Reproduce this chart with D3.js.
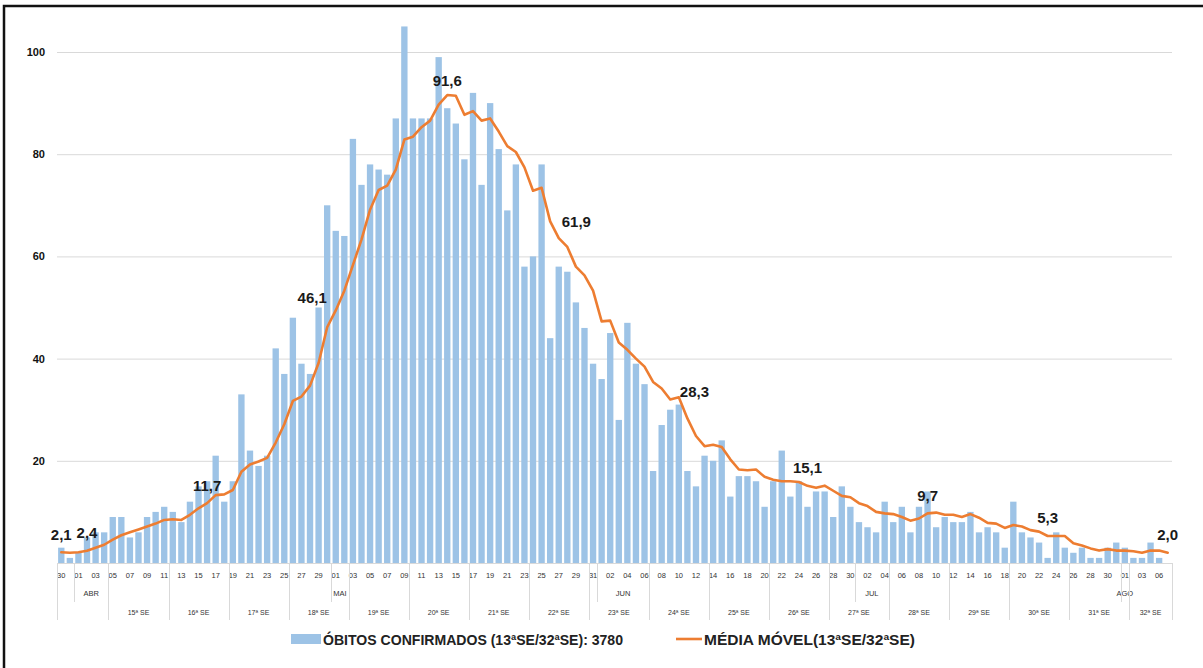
<!DOCTYPE html>
<html lang="pt-BR">
<head>
<meta charset="utf-8">
<title>Óbitos confirmados e média móvel</title>
<script src="https://cdn.jsdelivr.net/npm/d3@7"></script>
<style>
  html, body { margin: 0; padding: 0; background: #fff; }
  svg { display: block; font-family: "Liberation Sans", Arial, sans-serif; }
</style>
</head>
<body>
<svg id="obitos-chart" width="1203" height="668"></svg>
<script>
// dias (rótulo do eixo), de 30/03 a 07/08 (05/08 ausente na planilha)
const dias = [
  "30", "31",
  "01", "02", "03", "04", "05", "06", "07", "08", "09", "10", "11", "12", "13", "14", "15",
  "16", "17", "18", "19", "20", "21", "22", "23", "24", "25", "26", "27", "28", "29", "30",
  "01", "02", "03", "04", "05", "06", "07", "08", "09", "10", "11", "12", "13", "14", "15", "16",
  "17", "18", "19", "20", "21", "22", "23", "24", "25", "26", "27", "28", "29", "30", "31",
  "01", "02", "03", "04", "05", "06", "07", "08", "09", "10", "11", "12", "13", "14", "15",
  "16", "17", "18", "19", "20", "21", "22", "23", "24", "25", "26", "27", "28", "29", "30",
  "01", "02", "03", "04", "05", "06", "07", "08", "09", "10", "11", "12", "13", "14", "15", "16",
  "17", "18", "19", "20", "21", "22", "23", "24", "25", "26", "27", "28", "29", "30", "31",
  "01", "02", "03", "04", "06", "07",
];

const obitos = [
  3, 1, 2, 5, 6, 6, 9, 9, 5, 6,
  9, 10, 11, 10, 8, 12, 15, 16, 21, 12,
  16, 33, 22, 19, 21, 42, 37, 48, 39, 37,
  50, 70, 65, 64, 83, 74, 78, 77, 76, 87,
  105, 87, 87, 87, 99, 89, 86, 79, 92, 74,
  90, 81, 69, 78, 58, 60, 78, 44, 58, 57,
  51, 46, 39, 36, 45, 28, 47, 39, 35, 18,
  27, 30, 31, 18, 15, 21, 20, 24, 13, 17,
  17, 16, 11, 16, 22, 13, 16, 11, 14, 14,
  9, 15, 11, 8, 7, 6, 12, 8, 11, 6,
  11, 14, 7, 9, 8, 8, 10, 6, 7, 6,
  3, 12, 6, 5, 4, 1, 6, 3, 2, 3,
  1, 1, 3, 4, 3, 1, 1, 4, 1, 0,
];

const mediaMovel = [
  2.1, 2.0, 2.1, 2.4, 3.0, 3.57, 4.57, 5.43, 6.0, 6.57,
  7.14, 7.71, 8.43, 8.57, 8.43, 9.43, 10.71, 11.71, 13.29, 13.43,
  14.29, 17.86, 19.29, 19.86, 20.57, 23.57, 27.14, 31.71, 32.57, 34.71,
  39.14, 46.14, 49.43, 53.29, 58.29, 63.29, 69.14, 73.0, 73.86, 77.0,
  82.86, 83.43, 85.29, 86.57, 89.71, 91.57, 91.43, 87.71, 88.43, 86.57,
  87.0, 84.43, 81.57, 80.43, 77.43, 72.86, 73.43, 66.86, 63.57, 61.86,
  58.0, 56.29, 53.29, 47.29, 47.43, 43.14, 41.71, 40.0, 38.43, 35.43,
  34.14, 32.0, 32.43, 28.29, 24.86, 22.86, 23.14, 22.71, 20.29, 18.29,
  18.14, 18.29, 16.86, 16.29, 16.0, 16.0, 15.86, 15.1, 14.71, 15.14,
  14.14, 13.14, 12.86, 11.71, 11.14, 10.0, 9.71, 9.57, 9.0, 8.29,
  8.71, 9.71, 9.86, 9.43, 9.43, 9.0, 9.57, 8.86, 7.86, 7.71,
  6.86, 7.43, 7.14, 6.43, 6.14, 5.29, 5.29, 5.29, 3.86, 3.43,
  2.86, 2.43, 2.71, 2.43, 2.43, 2.29, 2.0, 2.43, 2.43, 2.0,
];

// pontos da média móvel com rótulo
const pontosRotulados = [0, 3, 17, 31, 45, 59, 73, 87, 101, 115, 129];

// meses: rótulo e índice do dia 01
const meses = ["ABR", "MAI", "JUN", "JUL", "AGO"];
const mesesInicio = [2, 32, 63, 93, 124];

// semanas epidemiológicas: rótulo e índice do primeiro dia
const semanas = [
  "", "15ª SE", "16ª SE", "17ª SE", "18ª SE", "19ª SE", "20ª SE", "21ª SE", "22ª SE", "23ª SE",
  "24ª SE", "25ª SE", "26ª SE", "27ª SE", "28ª SE", "29ª SE", "30ª SE", "31ª SE", "32ª SE",
];
const semanasInicio = [0, 6, 13, 20, 27, 34, 41, 48, 55, 62, 69, 76, 83, 90, 97, 104, 111, 118, 125];

const yTicks = [20, 40, 60, 80, 100];

const legendaBarras = "ÓBITOS CONFIRMADOS (13ªSE/32ªSE): 3780";
const legendaLinha = "MÉDIA MÓVEL(13ªSE/32ªSE)";

(function graficoObitos() {
  const svg = d3.select("#obitos-chart");
  const width = 1203;
  const height = 668;
  const left = 57;
  const right = 1172;
  const base = 563;
  const topo100 = 52;

  const corBarra = "#9dc3e6";
  const corLinha = "#ed7d31";
  const corGrade = "#d9d9d9";

  svg.append("rect").attr("width", width).attr("height", height).attr("fill", "#fff");

  // moldura (só topo e esquerda aparecem no recorte)
  svg
    .append("path")
    .attr("d", `M4,${height} V6 H${width}`)
    .attr("fill", "none")
    .attr("stroke", "#111")
    .attr("stroke-width", 2.5);

  const n = obitos.length;
  const idx = d3.range(n);

  const x = d3.scaleBand().domain(idx).range([left, right]).paddingInner(0.26).paddingOuter(0.13);
  const slot = d3.scaleLinear().domain([0, n]).range([left, right]);
  const y = d3.scaleLinear().domain([0, 100]).range([base, topo100]);
  const cx = (i) => x(i) + x.bandwidth() / 2;

  // grade horizontal
  const gridG = svg.append("g").attr("transform", `translate(${left},0)`);
  gridG.call(d3.axisLeft(y).tickValues(yTicks).tickSize(-(right - left)).tickFormat(""));
  gridG.selectAll("line").attr("stroke", corGrade).attr("stroke-width", 1);
  gridG.select(".domain").remove();

  // rótulos do eixo y
  const yAxisG = svg.append("g").attr("transform", `translate(${left},0)`);
  yAxisG.call(d3.axisLeft(y).tickValues(yTicks).tickSize(0).tickPadding(12));
  yAxisG.select(".domain").remove();
  yAxisG
    .selectAll("text")
    .attr("font-family", "Liberation Sans, Arial, sans-serif")
    .attr("font-size", 11)
    .attr("font-weight", "bold")
    .attr("fill", "#111");

  // barras
  svg
    .append("g")
    .selectAll("rect")
    .data(obitos)
    .join("rect")
    .attr("x", (d, i) => x(i))
    .attr("width", x.bandwidth())
    .attr("y", (d) => y(d))
    .attr("height", (d) => y(0) - y(d))
    .attr("fill", corBarra);

  // linha base
  svg
    .append("line")
    .attr("x1", left)
    .attr("x2", right)
    .attr("y1", base + 0.5)
    .attr("y2", base + 0.5)
    .attr("stroke", corGrade);

  // média móvel
  const line = d3
    .line()
    .x((d, i) => cx(i))
    .y((d) => y(d));

  svg
    .append("path")
    .datum(mediaMovel)
    .attr("d", line)
    .attr("fill", "none")
    .attr("stroke", corLinha)
    .attr("stroke-width", 2.6)
    .attr("stroke-linejoin", "round")
    .attr("stroke-linecap", "round");

  // deslocamento de alguns rótulos (como no original)
  const ajusteRotulo = { 31: [-15, -30], 45: [0, -15], 59: [9, -25], 73: [7, -27] };

  svg
    .append("g")
    .selectAll("text")
    .data(pontosRotulados)
    .join("text")
    .attr("x", (i) => cx(i) + (ajusteRotulo[i] ? ajusteRotulo[i][0] : 0))
    .attr("y", (i) => y(mediaMovel[i]) + (ajusteRotulo[i] ? ajusteRotulo[i][1] : -18))
    .attr("text-anchor", "middle")
    .attr("dominant-baseline", "central")
    .attr("font-size", 15)
    .attr("font-weight", "bold")
    .attr("fill", "#1a1a1a")
    .text((i) => mediaMovel[i].toFixed(1).replace(".", ","));

  // eixo de categorias em três níveis
  const catG = svg.append("g").attr("fill", "#333");

  catG
    .selectAll("text.dia")
    .data(idx.filter((i) => i % 2 === 0))
    .join("text")
    .attr("class", "dia")
    .attr("x", (i) => cx(i))
    .attr("y", 575)
    .attr("text-anchor", "middle")
    .attr("dominant-baseline", "central")
    .attr("font-size", 7.5)
    .text((i) => dias[i]);

  const fimSemana = (start) => {
    const k = semanasInicio.findIndex((s, j) => start >= s && start < (semanasInicio[j + 1] ?? n));
    return semanasInicio[k + 1] ?? n;
  };

  catG
    .selectAll("text.mes")
    .data(meses)
    .join("text")
    .attr("class", "mes")
    .attr("x", (d, j) => (slot(mesesInicio[j]) + slot(fimSemana(mesesInicio[j]))) / 2)
    .attr("y", 593)
    .attr("text-anchor", "middle")
    .attr("dominant-baseline", "central")
    .attr("font-size", 7.5)
    .text((d) => d);

  catG
    .selectAll("text.se")
    .data(semanas)
    .join("text")
    .attr("class", "se")
    .attr("x", (d, j) => (slot(semanasInicio[j]) + slot(semanasInicio[j + 1] ?? n)) / 2)
    .attr("y", 612)
    .attr("text-anchor", "middle")
    .attr("dominant-baseline", "central")
    .attr("font-size", 7)
    .text((d) => d);

  const divG = svg.append("g").attr("stroke", corGrade).attr("stroke-width", 1);

  divG
    .selectAll("line.se")
    .data([...semanasInicio, n])
    .join("line")
    .attr("class", "se")
    .attr("x1", (i) => Math.round(slot(i)) + 0.5)
    .attr("x2", (i) => Math.round(slot(i)) + 0.5)
    .attr("y1", base)
    .attr("y2", 620);

  divG
    .selectAll("line.mes")
    .data(mesesInicio)
    .join("line")
    .attr("class", "mes")
    .attr("x1", (i) => Math.round(slot(i)) + 0.5)
    .attr("x2", (i) => Math.round(slot(i)) + 0.5)
    .attr("y1", base)
    .attr("y2", 602);

  // legenda
  const legG = svg.append("g").attr("transform", "translate(0,639)");

  legG.append("rect").attr("x", 291).attr("y", -5).attr("width", 30).attr("height", 10).attr("fill", corBarra);
  legG
    .append("text")
    .attr("x", 323)
    .attr("y", 0)
    .attr("dominant-baseline", "central")
    .attr("font-size", 15)
    .attr("font-weight", "bold")
    .attr("fill", "#222")
    .attr("textLength", 300)
    .attr("lengthAdjust", "spacingAndGlyphs")
    .text(legendaBarras);

  legG
    .append("line")
    .attr("x1", 676)
    .attr("x2", 702)
    .attr("y1", 0)
    .attr("y2", 0)
    .attr("stroke", corLinha)
    .attr("stroke-width", 2.6);
  legG
    .append("text")
    .attr("x", 704)
    .attr("y", 0)
    .attr("dominant-baseline", "central")
    .attr("font-size", 15)
    .attr("font-weight", "bold")
    .attr("fill", "#222")
    .attr("textLength", 211)
    .attr("lengthAdjust", "spacingAndGlyphs")
    .text(legendaLinha);
})();
</script>
</body>
</html>
